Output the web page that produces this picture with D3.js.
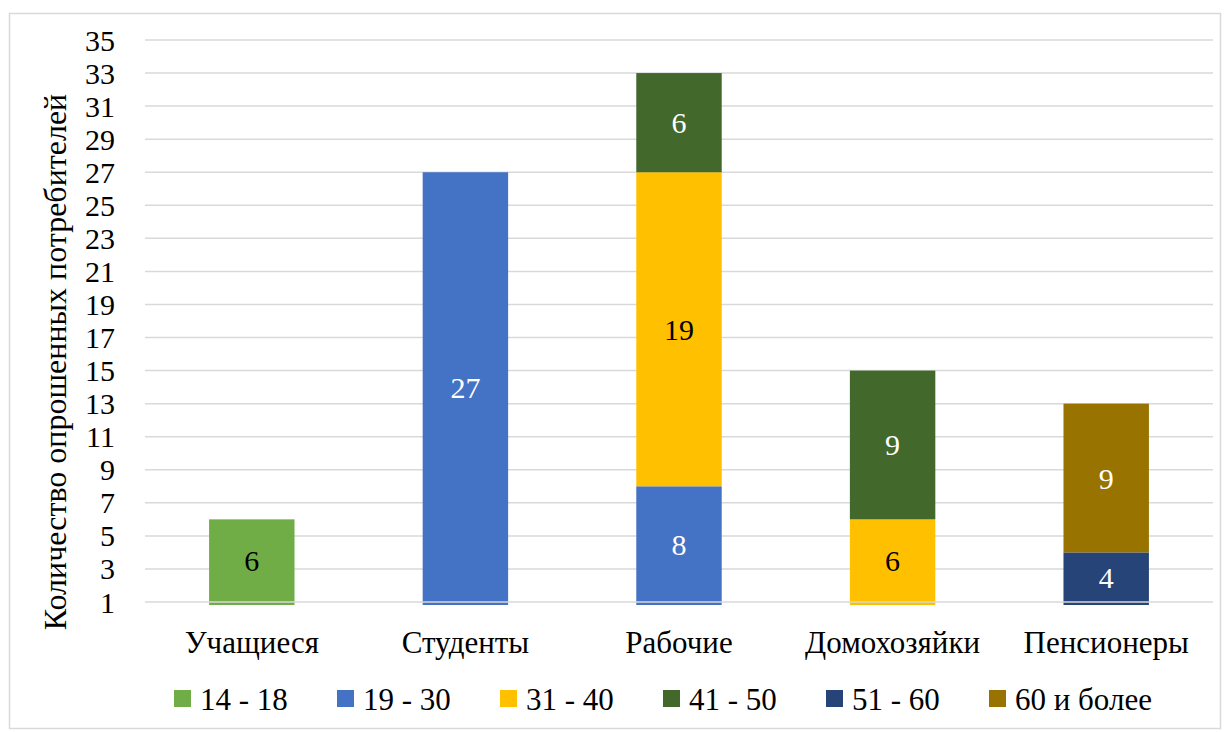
<!DOCTYPE html>
<html>
<head>
<meta charset="utf-8">
<script src="https://cdn.jsdelivr.net/npm/d3@7"></script>
<style>
  body { margin: 0; background: #fff; }
</style>
</head>
<body>
<script>
const width = 1227;
const height = 732;

const categories = ['Учащиеся', 'Студенты', 'Рабочие', 'Домохозяйки', 'Пенсионеры'];
const groups = ['14 - 18', '19 - 30', '31 - 40', '41 - 50', '51 - 60', '60 и более'];
const colors = ['#70AD47', '#4472C4', '#FFC000', '#43682B', '#264478', '#997300'];
const labelColors = ['#000', '#fff', '#000', '#fff', '#fff', '#fff'];
// one array per age group, values by category
const age14_18 = [6, 0, 0, 0, 0];
const age19_30 = [0, 27, 8, 0, 0];
const age31_40 = [0, 0, 19, 6, 0];
const age41_50 = [0, 0, 6, 9, 0];
const age51_60 = [0, 0, 0, 0, 4];
const age60plus = [0, 0, 0, 0, 9];
const yTicks = d3.range(1, 36, 2);
const yTitle = 'Количество опрошенных потребителей';

const seriesValues = [age14_18, age19_30, age31_40, age41_50, age51_60, age60plus];
const rows = categories.map((c, i) => {
  const r = { cat: c };
  groups.forEach((g, k) => { r[g] = seriesValues[k][i]; });
  return r;
});

const font = "'Liberation Serif', 'Times New Roman', serif";

const svg = d3.select('body')
  .append('svg')
  .attr('width', width)
  .attr('height', height)
  .attr('font-family', font);

svg.append('rect')
  .attr('x', 9.5)
  .attr('y', 13.5)
  .attr('width', 1211)
  .attr('height', 715)
  .attr('fill', 'white')
  .attr('stroke', '#d9d9d9')
  .attr('stroke-width', 1.5);

const x = d3.scaleBand()
  .domain(categories)
  .range([145, 1213])
  .paddingInner(0.6)
  .paddingOuter(0.3);

const y = d3.scaleLinear()
  .domain([1, 35])
  .range([602, 40]);

// gridlines
svg.append('g')
  .selectAll('line')
  .data(yTicks.filter(t => t !== 1))
  .enter()
  .append('line')
  .attr('x1', 145)
  .attr('x2', 1213)
  .attr('y1', d => y(d))
  .attr('y2', d => y(d))
  .attr('stroke', '#d9d9d9')
  .attr('stroke-width', 1.5);

svg.append('clipPath')
  .attr('id', 'plot')
  .append('rect')
  .attr('x', 145)
  .attr('y', 0)
  .attr('width', 1068)
  .attr('height', y(1) + 3);

const stacked = d3.stack().keys(groups)(rows);

const layers = svg.append('g')
  .attr('clip-path', 'url(#plot)')
  .selectAll('g')
  .data(stacked)
  .enter()
  .append('g')
  .attr('fill', (d, i) => colors[i]);

layers.selectAll('rect')
  .data(d => d.filter(p => p[1] > p[0]))
  .enter()
  .append('rect')
  .attr('x', d => x(d.data.cat))
  .attr('width', x.bandwidth())
  .attr('y', d => y(d[1]))
  .attr('height', d => y(d[0]) - y(d[1]));

// axis line at the bottom
svg.append('line')
  .attr('x1', 145)
  .attr('x2', 1213)
  .attr('y1', y(1))
  .attr('y2', y(1))
  .attr('stroke', '#d9d9d9')
  .attr('stroke-width', 1.5);

// data labels
stacked.forEach((s, i) => {
  svg.append('g')
    .selectAll('text')
    .data(s.filter(p => p[1] > p[0]))
    .enter()
    .append('text')
    .attr('x', d => x(d.data.cat) + x.bandwidth() / 2)
    .attr('y', d => y((Math.max(d[0], 1) + d[1]) / 2))
    .attr('dy', '0.35em')
    .attr('text-anchor', 'middle')
    .attr('font-size', 30)
    .attr('fill', labelColors[i])
    .text(d => d[1] - d[0]);
});

// y tick labels
svg.append('g')
  .selectAll('text')
  .data(yTicks)
  .enter()
  .append('text')
  .attr('x', 115)
  .attr('y', d => y(d))
  .attr('dy', '0.35em')
  .attr('text-anchor', 'end')
  .attr('font-size', 30)
  .attr('fill', '#000')
  .text(d => d);

// category labels
svg.append('g')
  .selectAll('text')
  .data(categories)
  .enter()
  .append('text')
  .attr('x', d => x(d) + x.bandwidth() / 2)
  .attr('y', 653)
  .attr('text-anchor', 'middle')
  .attr('font-size', 31)
  .attr('fill', '#000')
  .text(d => d);

// y axis title
svg.append('text')
  .attr('transform', 'translate(66,362) rotate(-90)')
  .attr('text-anchor', 'middle')
  .attr('font-size', 32)
  .attr('fill', '#000')
  .text(yTitle);

// legend
const legend = svg.append('g')
  .selectAll('g')
  .data(groups)
  .enter()
  .append('g')
  .attr('transform', (d, i) => `translate(${174 + i * 163},690)`);

legend.append('rect')
  .attr('width', 17)
  .attr('height', 17)
  .attr('fill', (d, i) => colors[i]);

legend.append('text')
  .attr('x', 26)
  .attr('y', 20)
  .attr('font-size', 31)
  .attr('fill', '#000')
  .text(d => d);
</script>
</body>
</html>
